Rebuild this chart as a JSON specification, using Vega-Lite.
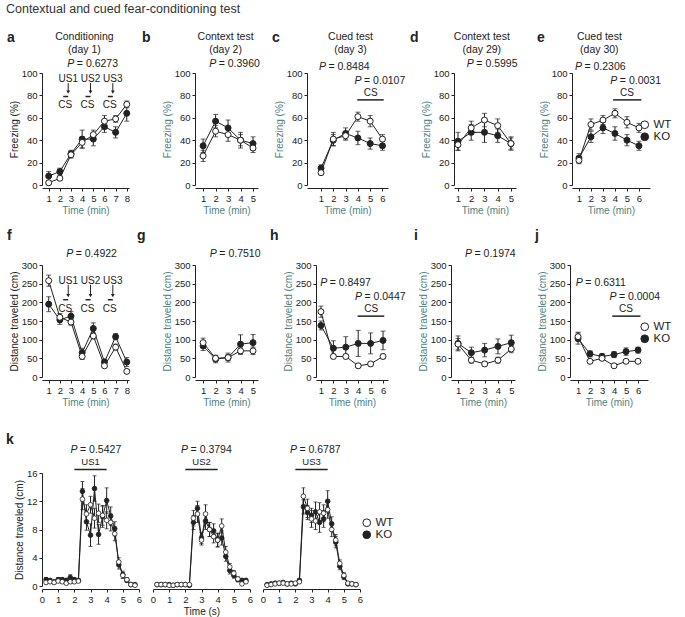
{
"$schema": "https://vega.github.io/schema/vega-lite/v6.json",
"background": "white",
"padding": {"left": 5, "top": 2, "right": 0, "bottom": 0},
"title": {"text": "Contextual and cued fear-conditioning test", "anchor": "start", "frame": "bounds", "fontSize": 12.5, "fontWeight": "normal", "font": "Liberation Sans", "color": "#333", "offset": 16},
"config": {
  "view": {"stroke": null},
  "font": "Liberation Sans",
  "axis": {"grid": false, "domainColor": "#222", "tickColor": "#222", "labelColor": "#222", "titleColor": "#222", "labelFontSize": 9.5, "titleFontSize": 10, "titleFontWeight": "normal", "tickSize": 3, "labelPadding": 2, "titlePadding": 2, "domainWidth": 1, "tickWidth": 1, "labelFont": "Liberation Sans", "titleFont": "Liberation Sans", "labelFlush": false, "labelOverlap": false},
  "axisX": {"titlePadding": 3},
  "text": {"fontSize": 10.5, "color": "#222", "font": "Liberation Sans"}
},
"datasets": {
  "a": [
    {"t":1,"g":"KO","v":8,"e":4},{"t":2,"g":"KO","v":12,"e":3},{"t":3,"g":"KO","v":28,"e":3},{"t":4,"g":"KO","v":41,"e":8},{"t":5,"g":"KO","v":41,"e":6},{"t":6,"g":"KO","v":52,"e":5},{"t":7,"g":"KO","v":47,"e":5},{"t":8,"g":"KO","v":64,"e":7},
    {"t":1,"g":"WT","v":2,"e":2},{"t":2,"g":"WT","v":6,"e":2},{"t":3,"g":"WT","v":27,"e":3},{"t":4,"g":"WT","v":38,"e":5},{"t":5,"g":"WT","v":45,"e":4},{"t":6,"g":"WT","v":57,"e":5},{"t":7,"g":"WT","v":59,"e":3},{"t":8,"g":"WT","v":72,"e":3}
  ],
  "b": [
    {"t":1,"g":"KO","v":35,"e":6},{"t":2,"g":"KO","v":57,"e":6},{"t":3,"g":"KO","v":51,"e":7},{"t":4,"g":"KO","v":40,"e":7},{"t":5,"g":"KO","v":37,"e":6},
    {"t":1,"g":"WT","v":26,"e":5},{"t":2,"g":"WT","v":48,"e":5},{"t":3,"g":"WT","v":45,"e":6},{"t":4,"g":"WT","v":40,"e":5},{"t":5,"g":"WT","v":33,"e":4}
  ],
  "c": [
    {"t":1,"g":"KO","v":15,"e":3},{"t":2,"g":"KO","v":40,"e":5},{"t":3,"g":"KO","v":46,"e":5},{"t":4,"g":"KO","v":42,"e":6},{"t":5,"g":"KO","v":37,"e":5},{"t":6,"g":"KO","v":35,"e":4},
    {"t":1,"g":"WT","v":11,"e":2},{"t":2,"g":"WT","v":41,"e":6},{"t":3,"g":"WT","v":44,"e":4},{"t":4,"g":"WT","v":61,"e":4},{"t":5,"g":"WT","v":57,"e":5},{"t":6,"g":"WT","v":41,"e":4}
  ],
  "d": [
    {"t":1,"g":"KO","v":39,"e":8},{"t":2,"g":"KO","v":47,"e":7},{"t":3,"g":"KO","v":47,"e":9},{"t":4,"g":"KO","v":44,"e":6},{"t":5,"g":"KO","v":37,"e":6},
    {"t":1,"g":"WT","v":36,"e":5},{"t":2,"g":"WT","v":51,"e":6},{"t":3,"g":"WT","v":58,"e":6},{"t":4,"g":"WT","v":53,"e":6},{"t":5,"g":"WT","v":37,"e":5}
  ],
  "e": [
    {"t":1,"g":"KO","v":24,"e":4},{"t":2,"g":"KO","v":43,"e":5},{"t":3,"g":"KO","v":51,"e":5},{"t":4,"g":"KO","v":46,"e":6},{"t":5,"g":"KO","v":40,"e":5},{"t":6,"g":"KO","v":35,"e":4},
    {"t":1,"g":"WT","v":22,"e":3},{"t":2,"g":"WT","v":54,"e":5},{"t":3,"g":"WT","v":58,"e":4},{"t":4,"g":"WT","v":64,"e":4},{"t":5,"g":"WT","v":56,"e":5},{"t":6,"g":"WT","v":51,"e":4}
  ],
  "f": [
    {"t":1,"g":"KO","v":195,"e":20},{"t":2,"g":"KO","v":153,"e":12},{"t":3,"g":"KO","v":163,"e":12},{"t":4,"g":"KO","v":65,"e":12},{"t":5,"g":"KO","v":130,"e":15},{"t":6,"g":"KO","v":40,"e":8},{"t":7,"g":"KO","v":108,"e":8},{"t":8,"g":"KO","v":40,"e":12},
    {"t":1,"g":"WT","v":258,"e":15},{"t":2,"g":"WT","v":160,"e":10},{"t":3,"g":"WT","v":147,"e":8},{"t":4,"g":"WT","v":55,"e":8},{"t":5,"g":"WT","v":110,"e":8},{"t":6,"g":"WT","v":30,"e":5},{"t":7,"g":"WT","v":80,"e":8},{"t":8,"g":"WT","v":15,"e":5}
  ],
  "g": [
    {"t":1,"g":"KO","v":83,"e":12},{"t":2,"g":"KO","v":48,"e":10},{"t":3,"g":"KO","v":52,"e":12},{"t":4,"g":"KO","v":88,"e":25},{"t":5,"g":"KO","v":92,"e":22},
    {"t":1,"g":"WT","v":92,"e":12},{"t":2,"g":"WT","v":50,"e":8},{"t":3,"g":"WT","v":52,"e":8},{"t":4,"g":"WT","v":70,"e":10},{"t":5,"g":"WT","v":70,"e":10}
  ],
  "h": [
    {"t":1,"g":"KO","v":138,"e":12},{"t":2,"g":"KO","v":77,"e":20},{"t":3,"g":"KO","v":80,"e":28},{"t":4,"g":"KO","v":90,"e":35},{"t":5,"g":"KO","v":90,"e":28},{"t":6,"g":"KO","v":98,"e":25},
    {"t":1,"g":"WT","v":175,"e":15},{"t":2,"g":"WT","v":55,"e":6},{"t":3,"g":"WT","v":55,"e":6},{"t":4,"g":"WT","v":30,"e":5},{"t":5,"g":"WT","v":35,"e":5},{"t":6,"g":"WT","v":55,"e":6}
  ],
  "i": [
    {"t":1,"g":"KO","v":90,"e":20},{"t":2,"g":"KO","v":65,"e":15},{"t":3,"g":"KO","v":72,"e":18},{"t":4,"g":"KO","v":82,"e":20},{"t":5,"g":"KO","v":92,"e":20},
    {"t":1,"g":"WT","v":88,"e":15},{"t":2,"g":"WT","v":45,"e":8},{"t":3,"g":"WT","v":35,"e":6},{"t":4,"g":"WT","v":45,"e":8},{"t":5,"g":"WT","v":75,"e":10}
  ],
  "j": [
    {"t":1,"g":"KO","v":103,"e":15},{"t":2,"g":"KO","v":62,"e":8},{"t":3,"g":"KO","v":55,"e":8},{"t":4,"g":"KO","v":60,"e":8},{"t":5,"g":"KO","v":68,"e":10},{"t":6,"g":"KO","v":72,"e":8},
    {"t":1,"g":"WT","v":108,"e":12},{"t":2,"g":"WT","v":42,"e":5},{"t":3,"g":"WT","v":50,"e":5},{"t":4,"g":"WT","v":30,"e":4},{"t":5,"g":"WT","v":42,"e":5},{"t":6,"g":"WT","v":42,"e":5}
  ],
  "k1": [
    {"t":0.25,"g":"KO","v":0.9,"e":0.3},{"t":0.5,"g":"KO","v":0.8,"e":0.2},{"t":0.75,"g":"KO","v":0.6,"e":0.2},{"t":1,"g":"KO","v":0.9,"e":0.3},{"t":1.25,"g":"KO","v":0.9,"e":0.3},{"t":1.5,"g":"KO","v":0.8,"e":0.2},{"t":1.75,"g":"KO","v":1.2,"e":0.4},{"t":2,"g":"KO","v":0.9,"e":0.3},{"t":2.25,"g":"KO","v":0.8,"e":0.2},{"t":2.5,"g":"KO","v":13.4,"e":1.4},{"t":2.75,"g":"KO","v":9.1,"e":1.2},{"t":3,"g":"KO","v":7.2,"e":1.6},{"t":3.25,"g":"KO","v":13.8,"e":1.8},{"t":3.5,"g":"KO","v":7.3,"e":1.4},{"t":3.75,"g":"KO","v":9.8,"e":1.5},{"t":4,"g":"KO","v":12.1,"e":1.8},{"t":4.25,"g":"KO","v":9.9,"e":1.3},{"t":4.5,"g":"KO","v":8.1,"e":1.0},{"t":4.75,"g":"KO","v":3.0,"e":0.6},{"t":5,"g":"KO","v":1.6,"e":0.5},{"t":5.25,"g":"KO","v":0.8,"e":0.3},{"t":5.5,"g":"KO","v":0.2,"e":0.1},{"t":5.75,"g":"KO","v":0.2,"e":0.1},
    {"t":0.25,"g":"WT","v":0.5,"e":0.2},{"t":0.5,"g":"WT","v":0.6,"e":0.2},{"t":0.75,"g":"WT","v":0.5,"e":0.2},{"t":1,"g":"WT","v":0.7,"e":0.2},{"t":1.25,"g":"WT","v":0.6,"e":0.2},{"t":1.5,"g":"WT","v":0.4,"e":0.2},{"t":1.75,"g":"WT","v":0.6,"e":0.2},{"t":2,"g":"WT","v":0.6,"e":0.2},{"t":2.25,"g":"WT","v":0.7,"e":0.2},{"t":2.5,"g":"WT","v":12.3,"e":1.5},{"t":2.75,"g":"WT","v":10.2,"e":1.3},{"t":3,"g":"WT","v":11.5,"e":1.2},{"t":3.25,"g":"WT","v":9.6,"e":1.4},{"t":3.5,"g":"WT","v":10.3,"e":1.3},{"t":3.75,"g":"WT","v":10.0,"e":1.4},{"t":4,"g":"WT","v":9.3,"e":1.2},{"t":4.25,"g":"WT","v":9.0,"e":1.2},{"t":4.5,"g":"WT","v":7.4,"e":1.0},{"t":4.75,"g":"WT","v":3.4,"e":0.6},{"t":5,"g":"WT","v":1.5,"e":0.4},{"t":5.25,"g":"WT","v":0.9,"e":0.3},{"t":5.5,"g":"WT","v":0.2,"e":0.1},{"t":5.75,"g":"WT","v":0.1,"e":0.1}
  ],
  "k2": [
    {"t":0.25,"g":"KO","v":0.2,"e":0.1},{"t":0.5,"g":"KO","v":0.2,"e":0.1},{"t":0.75,"g":"KO","v":0.2,"e":0.1},{"t":1,"g":"KO","v":0.2,"e":0.1},{"t":1.25,"g":"KO","v":0.1,"e":0.1},{"t":1.5,"g":"KO","v":0.2,"e":0.1},{"t":1.75,"g":"KO","v":0.2,"e":0.1},{"t":2,"g":"KO","v":0.2,"e":0.1},{"t":2.25,"g":"KO","v":0.1,"e":0.1},{"t":2.5,"g":"KO","v":9.0,"e":1.0},{"t":2.75,"g":"KO","v":11.0,"e":1.0},{"t":3,"g":"KO","v":6.8,"e":0.8},{"t":3.25,"g":"KO","v":9.2,"e":1.2},{"t":3.5,"g":"KO","v":8.0,"e":1.0},{"t":3.75,"g":"KO","v":7.8,"e":1.0},{"t":4,"g":"KO","v":6.5,"e":0.9},{"t":4.25,"g":"KO","v":6.8,"e":1.0},{"t":4.5,"g":"KO","v":4.2,"e":0.7},{"t":4.75,"g":"KO","v":2.2,"e":0.5},{"t":5,"g":"KO","v":1.5,"e":0.4},{"t":5.25,"g":"KO","v":0.9,"e":0.3},{"t":5.5,"g":"KO","v":0.8,"e":0.2},{"t":5.75,"g":"KO","v":0.8,"e":0.2},
    {"t":0.25,"g":"WT","v":0.2,"e":0.1},{"t":0.5,"g":"WT","v":0.2,"e":0.1},{"t":0.75,"g":"WT","v":0.2,"e":0.1},{"t":1,"g":"WT","v":0.1,"e":0.1},{"t":1.25,"g":"WT","v":0.1,"e":0.1},{"t":1.5,"g":"WT","v":0.2,"e":0.1},{"t":1.75,"g":"WT","v":0.2,"e":0.1},{"t":2,"g":"WT","v":0.2,"e":0.1},{"t":2.25,"g":"WT","v":0.2,"e":0.1},{"t":2.5,"g":"WT","v":9.6,"e":1.1},{"t":2.75,"g":"WT","v":10.2,"e":1.2},{"t":3,"g":"WT","v":6.5,"e":0.7},{"t":3.25,"g":"WT","v":10.2,"e":1.3},{"t":3.5,"g":"WT","v":8.0,"e":1.0},{"t":3.75,"g":"WT","v":7.0,"e":0.9},{"t":4,"g":"WT","v":6.5,"e":1.0},{"t":4.25,"g":"WT","v":8.5,"e":1.0},{"t":4.5,"g":"WT","v":4.8,"e":0.8},{"t":4.75,"g":"WT","v":2.7,"e":0.5},{"t":5,"g":"WT","v":1.8,"e":0.4},{"t":5.25,"g":"WT","v":1.0,"e":0.3},{"t":5.5,"g":"WT","v":0.3,"e":0.2},{"t":5.75,"g":"WT","v":0.6,"e":0.2}
  ],
  "k3": [
    {"t":0.25,"g":"KO","v":0.2,"e":0.1},{"t":0.5,"g":"KO","v":0.3,"e":0.1},{"t":0.75,"g":"KO","v":0.4,"e":0.1},{"t":1,"g":"KO","v":0.4,"e":0.1},{"t":1.25,"g":"KO","v":0.5,"e":0.1},{"t":1.5,"g":"KO","v":0.3,"e":0.1},{"t":1.75,"g":"KO","v":0.4,"e":0.1},{"t":2,"g":"KO","v":0.3,"e":0.1},{"t":2.25,"g":"KO","v":0.8,"e":0.2},{"t":2.5,"g":"KO","v":11.2,"e":1.0},{"t":2.75,"g":"KO","v":10.4,"e":1.0},{"t":3,"g":"KO","v":10.0,"e":1.0},{"t":3.25,"g":"KO","v":10.5,"e":1.4},{"t":3.5,"g":"KO","v":9.0,"e":1.4},{"t":3.75,"g":"KO","v":9.5,"e":1.2},{"t":4,"g":"KO","v":12.0,"e":1.5},{"t":4.25,"g":"KO","v":8.8,"e":1.0},{"t":4.5,"g":"KO","v":6.2,"e":0.8},{"t":4.75,"g":"KO","v":2.8,"e":0.5},{"t":5,"g":"KO","v":1.3,"e":0.4},{"t":5.25,"g":"KO","v":0.3,"e":0.2},{"t":5.5,"g":"KO","v":0.3,"e":0.1},{"t":5.75,"g":"KO","v":0.2,"e":0.1},
    {"t":0.25,"g":"WT","v":0.1,"e":0.1},{"t":0.5,"g":"WT","v":0.2,"e":0.1},{"t":0.75,"g":"WT","v":0.3,"e":0.1},{"t":1,"g":"WT","v":0.4,"e":0.1},{"t":1.25,"g":"WT","v":0.4,"e":0.1},{"t":1.5,"g":"WT","v":0.3,"e":0.1},{"t":1.75,"g":"WT","v":0.3,"e":0.1},{"t":2,"g":"WT","v":0.4,"e":0.1},{"t":2.25,"g":"WT","v":0.6,"e":0.2},{"t":2.5,"g":"WT","v":12.7,"e":1.2},{"t":2.75,"g":"WT","v":11.0,"e":1.3},{"t":3,"g":"WT","v":9.5,"e":1.2},{"t":3.25,"g":"WT","v":9.2,"e":1.2},{"t":3.5,"g":"WT","v":10.5,"e":1.3},{"t":3.75,"g":"WT","v":10.3,"e":1.2},{"t":4,"g":"WT","v":10.8,"e":1.2},{"t":4.25,"g":"WT","v":8.0,"e":1.0},{"t":4.5,"g":"WT","v":6.5,"e":0.8},{"t":4.75,"g":"WT","v":3.2,"e":0.5},{"t":5,"g":"WT","v":1.5,"e":0.4},{"t":5.25,"g":"WT","v":0.4,"e":0.2},{"t":5.5,"g":"WT","v":0.3,"e":0.1},{"t":5.75,"g":"WT","v":0.2,"e":0.1}
  ],
  "us": [
    {"us":2.75,"cs0":2.3,"label":"US1"},{"us":4.75,"cs0":4.3,"label":"US2"},{"us":6.75,"cs0":6.3,"label":"US3"}
  ]
},
"columns": 5,
"bounds": "flush",
"spacing": {"row": 80, "column": 0},
"resolve": {"scale": {"fill": "independent"}},
"concat": [
 {"width": 153, "height": 112,
  "layer": [
   {"data": {"name": "a"}, "mark": {"type": "line", "color": "#222", "strokeWidth": 1}, "encoding": {"x": {"field": "t", "type": "quantitative", "title": "Time (min)", "scale": {"domain": [0.4, 8.2], "range": [0, 87], "nice": false, "zero": false}, "axis": {"values": [1,2,3,4,5,6,7,8], "tickCount": 50, "format": "d", "labelOverlap": false, "titleColor": "#4f8283", "offset": 3}}, "y": {"field": "v", "type": "quantitative", "title": "Freezing (%)", "scale": {"domain": [0, 100], "nice": false}, "axis": {"values": [0,20,40,60,80,100], "tickCount": 50, "format": "d", "labelOverlap": false}}, "detail": {"field": "g"}}},
   {"data": {"name": "a"}, "mark": {"type": "errorbar", "ticks": true, "size": 5, "thickness": 1, "color": "#222"}, "encoding": {"x": {"field": "t", "type": "quantitative", "title": "Time (min)"}, "y": {"field": "v", "type": "quantitative", "title": "Freezing (%)"}, "yError": {"field": "e"}}},
   {"data": {"name": "a"}, "mark": {"type": "point", "shape": "circle", "filled": true, "stroke": "#222", "strokeWidth": 1, "size": 36, "opacity": 1}, "encoding": {"x": {"field": "t", "type": "quantitative", "title": "Time (min)"}, "y": {"field": "v", "type": "quantitative", "title": "Freezing (%)"}, "fill": {"field": "g", "type": "nominal", "scale": {"domain": ["WT", "KO"], "range": ["white", "#222"]}, "legend": null}}},
   {"data": {"values": [{}]}, "mark": {"type": "text", "text": "a", "fontSize": 14, "fontWeight": "bold", "align": "left", "baseline": "middle"}, "encoding": {"x": {"datum": -2.74}, "y": {"datum": 131}}},
   {"data": {"values": [{}]}, "mark": {"type": "text", "text": ["Conditioning", "(day 1)"], "lineHeight": 13, "baseline": "middle"}, "encoding": {"x": {"datum": 4.2}, "y": {"datum": 132}}},
   {"data": {"values": [{}]}, "mark": {"type": "text", "text": "P", "fontStyle": "italic", "align": "right", "baseline": "middle"}, "encoding": {"x": {"datum": 3.3}, "y": {"datum": 108}}},
   {"data": {"values": [{}]}, "mark": {"type": "text", "text": "= 0.6273", "align": "left", "dx": 2.5, "baseline": "middle"}, "encoding": {"x": {"datum": 3.3}, "y": {"datum": 108}}},
   {"data": {"name": "us"}, "mark": {"type": "text", "fontSize": 10, "baseline": "middle"}, "encoding": {"x": {"field": "us", "type": "quantitative", "title": "Time (min)"}, "y": {"datum": 95}, "text": {"field": "label"}}},
   {"data": {"name": "us"}, "mark": {"type": "rule", "color": "#222", "strokeWidth": 1}, "encoding": {"x": {"field": "us", "type": "quantitative", "title": "Time (min)"}, "y": {"datum": 91}, "y2": {"datum": 83}}},
   {"data": {"name": "us"}, "mark": {"type": "point", "shape": "triangle-down", "filled": true, "color": "#222", "size": 14, "opacity": 1}, "encoding": {"x": {"field": "us", "type": "quantitative", "title": "Time (min)"}, "y": {"datum": 83}}},
   {"data": {"name": "us"}, "mark": {"type": "rule", "color": "#222", "strokeWidth": 1.5}, "encoding": {"x": {"field": "cs0", "type": "quantitative", "title": "Time (min)"}, "x2": {"field": "us"}, "y": {"datum": 79}}},
   {"data": {"name": "us"}, "mark": {"type": "text", "text": "CS", "fontSize": 10, "baseline": "middle", "dx": -3}, "encoding": {"x": {"field": "us", "type": "quantitative", "title": "Time (min)"}, "y": {"datum": 71}}}
  ]},
 {"width": 112, "height": 112,
  "layer": [
   {"data": {"name": "b"}, "mark": {"type": "line", "color": "#222", "strokeWidth": 1}, "encoding": {"x": {"field": "t", "type": "quantitative", "title": "Time (min)", "scale": {"domain": [0.35, 5.4], "range": [0, 63], "nice": false, "zero": false}, "axis": {"values": [1,2,3,4,5], "tickCount": 50, "format": "d", "labelOverlap": false, "titleColor": "#4f8283", "offset": 3}}, "y": {"field": "v", "type": "quantitative", "title": "Freezing (%)", "scale": {"domain": [0, 100], "nice": false}, "axis": {"values": [0,20,40,60,80,100], "tickCount": 50, "format": "d", "labelOverlap": false, "titleColor": "#4f8283"}}, "detail": {"field": "g"}}},
   {"data": {"name": "b"}, "mark": {"type": "errorbar", "ticks": true, "size": 5, "thickness": 1, "color": "#222"}, "encoding": {"x": {"field": "t", "type": "quantitative", "title": "Time (min)"}, "y": {"field": "v", "type": "quantitative", "title": "Freezing (%)"}, "yError": {"field": "e"}}},
   {"data": {"name": "b"}, "mark": {"type": "point", "shape": "circle", "filled": true, "stroke": "#222", "strokeWidth": 1, "size": 36, "opacity": 1}, "encoding": {"x": {"field": "t", "type": "quantitative", "title": "Time (min)"}, "y": {"field": "v", "type": "quantitative", "title": "Freezing (%)"}, "fill": {"field": "g", "type": "nominal", "scale": {"domain": ["WT", "KO"], "range": ["white", "#222"]}, "legend": null}}},
   {"data": {"values": [{}]}, "mark": {"type": "text", "text": "b", "fontSize": 14, "fontWeight": "bold", "align": "left", "baseline": "middle"}, "encoding": {"x": {"datum": -3.9}, "y": {"datum": 131}}},
   {"data": {"values": [{}]}, "mark": {"type": "text", "text": ["Context test", "(day 2)"], "lineHeight": 13, "baseline": "middle"}, "encoding": {"x": {"datum": 2.8}, "y": {"datum": 132}}},
   {"data": {"values": [{}]}, "mark": {"type": "text", "text": "P", "fontStyle": "italic", "align": "right", "baseline": "middle"}, "encoding": {"x": {"datum": 2.05}, "y": {"datum": 108}}},
   {"data": {"values": [{}]}, "mark": {"type": "text", "text": "= 0.3960", "align": "left", "dx": 2.5, "baseline": "middle"}, "encoding": {"x": {"datum": 2.05}, "y": {"datum": 108}}}
  ]},
 {"width": 144, "height": 112,
  "layer": [
   {"data": {"name": "c"}, "mark": {"type": "line", "color": "#222", "strokeWidth": 1}, "encoding": {"x": {"field": "t", "type": "quantitative", "title": "Time (min)", "scale": {"domain": [-0.14, 6.45], "range": [0, 81], "nice": false, "zero": false}, "axis": {"values": [1,2,3,4,5,6], "tickCount": 50, "format": "d", "labelOverlap": false, "titleColor": "#4f8283", "offset": 3}}, "y": {"field": "v", "type": "quantitative", "title": "Freezing (%)", "scale": {"domain": [0, 100], "nice": false}, "axis": {"values": [0,20,40,60,80,100], "tickCount": 50, "format": "d", "labelOverlap": false, "titleColor": "#4f8283"}}, "detail": {"field": "g"}}},
   {"data": {"name": "c"}, "mark": {"type": "errorbar", "ticks": true, "size": 5, "thickness": 1, "color": "#222"}, "encoding": {"x": {"field": "t", "type": "quantitative", "title": "Time (min)"}, "y": {"field": "v", "type": "quantitative", "title": "Freezing (%)"}, "yError": {"field": "e"}}},
   {"data": {"name": "c"}, "mark": {"type": "point", "shape": "circle", "filled": true, "stroke": "#222", "strokeWidth": 1, "size": 36, "opacity": 1}, "encoding": {"x": {"field": "t", "type": "quantitative", "title": "Time (min)"}, "y": {"field": "v", "type": "quantitative", "title": "Freezing (%)"}, "fill": {"field": "g", "type": "nominal", "scale": {"domain": ["WT", "KO"], "range": ["white", "#222"]}, "legend": null}}},
   {"data": {"values": [{}]}, "mark": {"type": "text", "text": "c", "fontSize": 14, "fontWeight": "bold", "align": "left", "baseline": "middle"}, "encoding": {"x": {"datum": -2.99}, "y": {"datum": 131}}},
   {"data": {"values": [{}]}, "mark": {"type": "text", "text": ["Cued test", "(day 3)"], "lineHeight": 13, "baseline": "middle"}, "encoding": {"x": {"datum": 3.4}, "y": {"datum": 132}}},
   {"data": {"values": [{}]}, "mark": {"type": "text", "text": "P", "fontStyle": "italic", "align": "right", "baseline": "middle"}, "encoding": {"x": {"datum": 1.4}, "y": {"datum": 105}}},
   {"data": {"values": [{}]}, "mark": {"type": "text", "text": "= 0.8484", "align": "left", "dx": 2.5, "baseline": "middle"}, "encoding": {"x": {"datum": 1.4}, "y": {"datum": 105}}},
   {"data": {"values": [{}]}, "mark": {"type": "text", "text": "P", "fontStyle": "italic", "align": "right", "baseline": "middle"}, "encoding": {"x": {"datum": 4.3}, "y": {"datum": 93}}},
   {"data": {"values": [{}]}, "mark": {"type": "text", "text": "= 0.0107", "align": "left", "dx": 2.5, "baseline": "middle"}, "encoding": {"x": {"datum": 4.3}, "y": {"datum": 93}}},
   {"data": {"values": [{}]}, "mark": {"type": "text", "text": "CS", "fontSize": 10, "baseline": "middle"}, "encoding": {"x": {"datum": 5.05}, "y": {"datum": 82}}},
   {"data": {"values": [{}]}, "mark": {"type": "rule", "color": "#222", "strokeWidth": 1.5}, "encoding": {"x": {"datum": 3.95}, "x2": {"datum": 6.1}, "y": {"datum": 76}}}
  ]},
 {"width": 119, "height": 112,
  "layer": [
   {"data": {"name": "d"}, "mark": {"type": "line", "color": "#222", "strokeWidth": 1}, "encoding": {"x": {"field": "t", "type": "quantitative", "title": "Time (min)", "scale": {"domain": [0.7, 5.38], "range": [3, 65], "nice": false, "zero": false}, "axis": {"values": [1,2,3,4,5], "tickCount": 50, "format": "d", "labelOverlap": false, "titleColor": "#4f8283", "offset": 3}}, "y": {"field": "v", "type": "quantitative", "title": "Freezing (%)", "scale": {"domain": [0, 100], "nice": false}, "axis": {"values": [0,20,40,60,80,100], "tickCount": 50, "format": "d", "labelOverlap": false, "titleColor": "#4f8283", "offset": -3}}, "detail": {"field": "g"}}},
   {"data": {"name": "d"}, "mark": {"type": "errorbar", "ticks": true, "size": 5, "thickness": 1, "color": "#222"}, "encoding": {"x": {"field": "t", "type": "quantitative", "title": "Time (min)"}, "y": {"field": "v", "type": "quantitative", "title": "Freezing (%)"}, "yError": {"field": "e"}}},
   {"data": {"name": "d"}, "mark": {"type": "point", "shape": "circle", "filled": true, "stroke": "#222", "strokeWidth": 1, "size": 36, "opacity": 1}, "encoding": {"x": {"field": "t", "type": "quantitative", "title": "Time (min)"}, "y": {"field": "v", "type": "quantitative", "title": "Freezing (%)"}, "fill": {"field": "g", "type": "nominal", "scale": {"domain": ["WT", "KO"], "range": ["white", "#222"]}, "legend": null}}},
   {"data": {"values": [{}]}, "mark": {"type": "text", "text": "d", "fontSize": 14, "fontWeight": "bold", "align": "left", "baseline": "middle"}, "encoding": {"x": {"datum": -2.62}, "y": {"datum": 131}}},
   {"data": {"values": [{}]}, "mark": {"type": "text", "text": ["Context test", "(day 29)"], "lineHeight": 13, "baseline": "middle"}, "encoding": {"x": {"datum": 2.8}, "y": {"datum": 132}}},
   {"data": {"values": [{}]}, "mark": {"type": "text", "text": "P", "fontStyle": "italic", "align": "right", "baseline": "middle"}, "encoding": {"x": {"datum": 2.2}, "y": {"datum": 108}}},
   {"data": {"values": [{}]}, "mark": {"type": "text", "text": "= 0.5995", "align": "left", "dx": 2.5, "baseline": "middle"}, "encoding": {"x": {"datum": 2.2}, "y": {"datum": 108}}}
  ]},
 {"width": 100, "height": 112,
  "layer": [
   {"data": {"name": "e"}, "mark": {"type": "line", "color": "#222", "strokeWidth": 1}, "encoding": {"x": {"field": "t", "type": "quantitative", "title": "Time (min)", "scale": {"domain": [0.42, 6.92], "range": [2, 80], "nice": false, "zero": false}, "axis": {"values": [1,2,3,4,5,6], "tickCount": 50, "format": "d", "labelOverlap": false, "titleColor": "#4f8283", "offset": 3}}, "y": {"field": "v", "type": "quantitative", "title": "Freezing (%)", "scale": {"domain": [0, 100], "nice": false}, "axis": {"values": [0,20,40,60,80,100], "tickCount": 50, "format": "d", "labelOverlap": false, "titleColor": "#4f8283", "offset": -2}}, "detail": {"field": "g"}}},
   {"data": {"name": "e"}, "mark": {"type": "errorbar", "ticks": true, "size": 5, "thickness": 1, "color": "#222"}, "encoding": {"x": {"field": "t", "type": "quantitative", "title": "Time (min)"}, "y": {"field": "v", "type": "quantitative", "title": "Freezing (%)"}, "yError": {"field": "e"}}},
   {"data": {"name": "e"}, "mark": {"type": "point", "shape": "circle", "filled": true, "stroke": "#222", "strokeWidth": 1, "size": 36, "opacity": 1}, "encoding": {"x": {"field": "t", "type": "quantitative", "title": "Time (min)"}, "y": {"field": "v", "type": "quantitative", "title": "Freezing (%)"}, "fill": {"field": "g", "type": "nominal", "scale": {"domain": ["WT", "KO"], "range": ["white", "#222"]}, "legend": {"title": null, "orient": "none", "legendX": 69, "legendY": 46, "symbolType": "circle", "symbolSize": 60, "symbolStrokeColor": "#222", "symbolStrokeWidth": 1, "labelFontSize": 11.5, "labelColor": "#222", "labelFont": "Liberation Sans", "rowPadding": -3, "labelOffset": 3}}}},
   {"data": {"values": [{}]}, "mark": {"type": "text", "text": "e", "fontSize": 14, "fontWeight": "bold", "align": "left", "baseline": "middle"}, "encoding": {"x": {"datum": -2.5}, "y": {"datum": 131}}},
   {"data": {"values": [{}]}, "mark": {"type": "text", "text": ["Cued test", "(day 30)"], "lineHeight": 13, "baseline": "middle"}, "encoding": {"x": {"datum": 2.7}, "y": {"datum": 132}}},
   {"data": {"values": [{}]}, "mark": {"type": "text", "text": "P", "fontStyle": "italic", "align": "right", "baseline": "middle"}, "encoding": {"x": {"datum": 1.25}, "y": {"datum": 105}}},
   {"data": {"values": [{}]}, "mark": {"type": "text", "text": "= 0.2306", "align": "left", "dx": 2.5, "baseline": "middle"}, "encoding": {"x": {"datum": 1.25}, "y": {"datum": 105}}},
   {"data": {"values": [{}]}, "mark": {"type": "text", "text": "P", "fontStyle": "italic", "align": "right", "baseline": "middle"}, "encoding": {"x": {"datum": 4.2}, "y": {"datum": 93}}},
   {"data": {"values": [{}]}, "mark": {"type": "text", "text": "= 0.0031", "align": "left", "dx": 2.5, "baseline": "middle"}, "encoding": {"x": {"datum": 4.2}, "y": {"datum": 93}}},
   {"data": {"values": [{}]}, "mark": {"type": "text", "text": "CS", "fontSize": 10, "baseline": "middle"}, "encoding": {"x": {"datum": 5.0}, "y": {"datum": 82}}},
   {"data": {"values": [{}]}, "mark": {"type": "rule", "color": "#222", "strokeWidth": 1.5}, "encoding": {"x": {"datum": 3.85}, "x2": {"datum": 6.2}, "y": {"datum": 76}}}
  ]},
 {"width": 153, "height": 112,
  "layer": [
   {"data": {"name": "f"}, "mark": {"type": "line", "color": "#222", "strokeWidth": 1}, "encoding": {"x": {"field": "t", "type": "quantitative", "title": "Time (min)", "scale": {"domain": [0.4, 8.2], "range": [0, 87], "nice": false, "zero": false}, "axis": {"values": [1,2,3,4,5,6,7,8], "tickCount": 50, "format": "d", "labelOverlap": false, "titleColor": "#4f8283", "offset": 3}}, "y": {"field": "v", "type": "quantitative", "title": "Distance traveled (cm)", "scale": {"domain": [0, 300], "nice": false}, "axis": {"values": [0,50,100,150,200,250,300], "tickCount": 50, "format": "d", "labelOverlap": false}}, "detail": {"field": "g"}}},
   {"data": {"name": "f"}, "mark": {"type": "errorbar", "ticks": true, "size": 5, "thickness": 1, "color": "#222"}, "encoding": {"x": {"field": "t", "type": "quantitative", "title": "Time (min)"}, "y": {"field": "v", "type": "quantitative", "title": "Distance traveled (cm)"}, "yError": {"field": "e"}}},
   {"data": {"name": "f"}, "mark": {"type": "point", "shape": "circle", "filled": true, "stroke": "#222", "strokeWidth": 1, "size": 36, "opacity": 1}, "encoding": {"x": {"field": "t", "type": "quantitative", "title": "Time (min)"}, "y": {"field": "v", "type": "quantitative", "title": "Distance traveled (cm)"}, "fill": {"field": "g", "type": "nominal", "scale": {"domain": ["WT", "KO"], "range": ["white", "#222"]}, "legend": null}}},
   {"data": {"values": [{}]}, "mark": {"type": "text", "text": "f", "fontSize": 14, "fontWeight": "bold", "align": "left", "baseline": "middle"}, "encoding": {"x": {"datum": -2.74}, "y": {"datum": 378}}},
   {"data": {"values": [{}]}, "mark": {"type": "text", "text": "P", "fontStyle": "italic", "align": "right", "baseline": "middle"}, "encoding": {"x": {"datum": 3.2}, "y": {"datum": 329}}},
   {"data": {"values": [{}]}, "mark": {"type": "text", "text": "= 0.4922", "align": "left", "dx": 2.5, "baseline": "middle"}, "encoding": {"x": {"datum": 3.2}, "y": {"datum": 329}}},
   {"data": {"name": "us"}, "mark": {"type": "text", "fontSize": 10, "baseline": "middle"}, "encoding": {"x": {"field": "us", "type": "quantitative", "title": "Time (min)"}, "y": {"datum": 258}, "text": {"field": "label"}}},
   {"data": {"name": "us"}, "mark": {"type": "rule", "color": "#222", "strokeWidth": 1}, "encoding": {"x": {"field": "us", "type": "quantitative", "title": "Time (min)"}, "y": {"datum": 247}, "y2": {"datum": 218}}},
   {"data": {"name": "us"}, "mark": {"type": "point", "shape": "triangle-down", "filled": true, "color": "#222", "size": 14, "opacity": 1}, "encoding": {"x": {"field": "us", "type": "quantitative", "title": "Time (min)"}, "y": {"datum": 218}}},
   {"data": {"name": "us"}, "mark": {"type": "rule", "color": "#222", "strokeWidth": 1.5}, "encoding": {"x": {"field": "cs0", "type": "quantitative", "title": "Time (min)"}, "x2": {"field": "us"}, "y": {"datum": 207}}},
   {"data": {"name": "us"}, "mark": {"type": "text", "text": "CS", "fontSize": 10, "baseline": "middle", "dx": -3}, "encoding": {"x": {"field": "us", "type": "quantitative", "title": "Time (min)"}, "y": {"datum": 181}}}
  ]},
 {"width": 112, "height": 112,
  "layer": [
   {"data": {"name": "g"}, "mark": {"type": "line", "color": "#222", "strokeWidth": 1}, "encoding": {"x": {"field": "t", "type": "quantitative", "title": "Time (min)", "scale": {"domain": [0.35, 5.4], "range": [0, 63], "nice": false, "zero": false}, "axis": {"values": [1,2,3,4,5], "tickCount": 50, "format": "d", "labelOverlap": false, "titleColor": "#4f8283", "offset": 3}}, "y": {"field": "v", "type": "quantitative", "title": "Distance traveled (cm)", "scale": {"domain": [0, 300], "nice": false}, "axis": {"values": [0,50,100,150,200,250,300], "tickCount": 50, "format": "d", "labelOverlap": false, "titleColor": "#4f8283"}}, "detail": {"field": "g"}}},
   {"data": {"name": "g"}, "mark": {"type": "errorbar", "ticks": true, "size": 5, "thickness": 1, "color": "#222"}, "encoding": {"x": {"field": "t", "type": "quantitative", "title": "Time (min)"}, "y": {"field": "v", "type": "quantitative", "title": "Distance traveled (cm)"}, "yError": {"field": "e"}}},
   {"data": {"name": "g"}, "mark": {"type": "point", "shape": "circle", "filled": true, "stroke": "#222", "strokeWidth": 1, "size": 36, "opacity": 1}, "encoding": {"x": {"field": "t", "type": "quantitative", "title": "Time (min)"}, "y": {"field": "v", "type": "quantitative", "title": "Distance traveled (cm)"}, "fill": {"field": "g", "type": "nominal", "scale": {"domain": ["WT", "KO"], "range": ["white", "#222"]}, "legend": null}}},
   {"data": {"values": [{}]}, "mark": {"type": "text", "text": "g", "fontSize": 14, "fontWeight": "bold", "align": "left", "baseline": "middle"}, "encoding": {"x": {"datum": -4.3}, "y": {"datum": 378}}},
   {"data": {"values": [{}]}, "mark": {"type": "text", "text": "P", "fontStyle": "italic", "align": "right", "baseline": "middle"}, "encoding": {"x": {"datum": 2.1}, "y": {"datum": 329}}},
   {"data": {"values": [{}]}, "mark": {"type": "text", "text": "= 0.7510", "align": "left", "dx": 2.5, "baseline": "middle"}, "encoding": {"x": {"datum": 2.1}, "y": {"datum": 329}}}
  ]},
 {"width": 144, "height": 112,
  "layer": [
   {"data": {"name": "h"}, "mark": {"type": "line", "color": "#222", "strokeWidth": 1}, "encoding": {"x": {"field": "t", "type": "quantitative", "title": "Time (min)", "scale": {"domain": [0.6, 6.4], "range": [9, 81], "nice": false, "zero": false}, "axis": {"values": [1,2,3,4,5,6], "tickCount": 50, "format": "d", "labelOverlap": false, "titleColor": "#4f8283", "offset": 3}}, "y": {"field": "v", "type": "quantitative", "title": "Distance traveled (cm)", "scale": {"domain": [0, 300], "nice": false}, "axis": {"values": [0,50,100,150,200,250,300], "tickCount": 50, "format": "d", "labelOverlap": false, "titleColor": "#4f8283", "offset": -9}}, "detail": {"field": "g"}}},
   {"data": {"name": "h"}, "mark": {"type": "errorbar", "ticks": true, "size": 5, "thickness": 1, "color": "#222"}, "encoding": {"x": {"field": "t", "type": "quantitative", "title": "Time (min)"}, "y": {"field": "v", "type": "quantitative", "title": "Distance traveled (cm)"}, "yError": {"field": "e"}}},
   {"data": {"name": "h"}, "mark": {"type": "point", "shape": "circle", "filled": true, "stroke": "#222", "strokeWidth": 1, "size": 36, "opacity": 1}, "encoding": {"x": {"field": "t", "type": "quantitative", "title": "Time (min)"}, "y": {"field": "v", "type": "quantitative", "title": "Distance traveled (cm)"}, "fill": {"field": "g", "type": "nominal", "scale": {"domain": ["WT", "KO"], "range": ["white", "#222"]}, "legend": null}}},
   {"data": {"values": [{}]}, "mark": {"type": "text", "text": "h", "fontSize": 14, "fontWeight": "bold", "align": "left", "baseline": "middle"}, "encoding": {"x": {"datum": -3.11}, "y": {"datum": 378}}},
   {"data": {"values": [{}]}, "mark": {"type": "text", "text": "P", "fontStyle": "italic", "align": "right", "baseline": "middle"}, "encoding": {"x": {"datum": 1.5}, "y": {"datum": 252}}},
   {"data": {"values": [{}]}, "mark": {"type": "text", "text": "= 0.8497", "align": "left", "dx": 2.5, "baseline": "middle"}, "encoding": {"x": {"datum": 1.5}, "y": {"datum": 252}}},
   {"data": {"values": [{}]}, "mark": {"type": "text", "text": "P", "fontStyle": "italic", "align": "right", "baseline": "middle"}, "encoding": {"x": {"datum": 4.3}, "y": {"datum": 214}}},
   {"data": {"values": [{}]}, "mark": {"type": "text", "text": "= 0.0447", "align": "left", "dx": 2.5, "baseline": "middle"}, "encoding": {"x": {"datum": 4.3}, "y": {"datum": 214}}},
   {"data": {"values": [{}]}, "mark": {"type": "text", "text": "CS", "fontSize": 10, "baseline": "middle"}, "encoding": {"x": {"datum": 5.05}, "y": {"datum": 182}}},
   {"data": {"values": [{}]}, "mark": {"type": "rule", "color": "#222", "strokeWidth": 1.5}, "encoding": {"x": {"datum": 3.95}, "x2": {"datum": 6.1}, "y": {"datum": 163}}}
  ]},
 {"width": 119, "height": 112,
  "layer": [
   {"data": {"name": "i"}, "mark": {"type": "line", "color": "#222", "strokeWidth": 1}, "encoding": {"x": {"field": "t", "type": "quantitative", "title": "Time (min)", "scale": {"domain": [0.47, 5.28], "range": [0, 64], "nice": false, "zero": false}, "axis": {"values": [1,2,3,4,5], "tickCount": 50, "format": "d", "labelOverlap": false, "titleColor": "#4f8283", "offset": 3}}, "y": {"field": "v", "type": "quantitative", "title": "Distance traveled (cm)", "scale": {"domain": [0, 300], "nice": false}, "axis": {"values": [0,50,100,150,200,250,300], "tickCount": 50, "format": "d", "labelOverlap": false, "titleColor": "#4f8283"}}, "detail": {"field": "g"}}},
   {"data": {"name": "i"}, "mark": {"type": "errorbar", "ticks": true, "size": 5, "thickness": 1, "color": "#222"}, "encoding": {"x": {"field": "t", "type": "quantitative", "title": "Time (min)"}, "y": {"field": "v", "type": "quantitative", "title": "Distance traveled (cm)"}, "yError": {"field": "e"}}},
   {"data": {"name": "i"}, "mark": {"type": "point", "shape": "circle", "filled": true, "stroke": "#222", "strokeWidth": 1, "size": 36, "opacity": 1}, "encoding": {"x": {"field": "t", "type": "quantitative", "title": "Time (min)"}, "y": {"field": "v", "type": "quantitative", "title": "Distance traveled (cm)"}, "fill": {"field": "g", "type": "nominal", "scale": {"domain": ["WT", "KO"], "range": ["white", "#222"]}, "legend": null}}},
   {"data": {"values": [{}]}, "mark": {"type": "text", "text": "i", "fontSize": 14, "fontWeight": "bold", "align": "left", "baseline": "middle"}, "encoding": {"x": {"datum": -2.31}, "y": {"datum": 378}}},
   {"data": {"values": [{}]}, "mark": {"type": "text", "text": "P", "fontStyle": "italic", "align": "right", "baseline": "middle"}, "encoding": {"x": {"datum": 2.05}, "y": {"datum": 329}}},
   {"data": {"values": [{}]}, "mark": {"type": "text", "text": "= 0.1974", "align": "left", "dx": 2.5, "baseline": "middle"}, "encoding": {"x": {"datum": 2.05}, "y": {"datum": 329}}}
  ]},
 {"width": 100, "height": 112,
  "layer": [
   {"data": {"name": "j"}, "mark": {"type": "line", "color": "#222", "strokeWidth": 1}, "encoding": {"x": {"field": "t", "type": "quantitative", "title": "Time (min)", "scale": {"domain": [0.33, 6.83], "range": [0, 78], "nice": false, "zero": false}, "axis": {"values": [1,2,3,4,5,6], "tickCount": 50, "format": "d", "labelOverlap": false, "titleColor": "#4f8283", "offset": 3}}, "y": {"field": "v", "type": "quantitative", "title": "Distance traveled (cm)", "scale": {"domain": [0, 300], "nice": false}, "axis": {"values": [0,50,100,150,200,250,300], "tickCount": 50, "format": "d", "labelOverlap": false, "titleColor": "#4f8283"}}, "detail": {"field": "g"}}},
   {"data": {"name": "j"}, "mark": {"type": "errorbar", "ticks": true, "size": 5, "thickness": 1, "color": "#222"}, "encoding": {"x": {"field": "t", "type": "quantitative", "title": "Time (min)"}, "y": {"field": "v", "type": "quantitative", "title": "Distance traveled (cm)"}, "yError": {"field": "e"}}},
   {"data": {"name": "j"}, "mark": {"type": "point", "shape": "circle", "filled": true, "stroke": "#222", "strokeWidth": 1, "size": 36, "opacity": 1}, "encoding": {"x": {"field": "t", "type": "quantitative", "title": "Time (min)"}, "y": {"field": "v", "type": "quantitative", "title": "Distance traveled (cm)"}, "fill": {"field": "g", "type": "nominal", "scale": {"domain": ["WT", "KO"], "range": ["white", "#222"]}, "legend": {"title": null, "orient": "none", "legendX": 69, "legendY": 56, "symbolType": "circle", "symbolSize": 60, "symbolStrokeColor": "#222", "symbolStrokeWidth": 1, "labelFontSize": 11.5, "labelColor": "#222", "labelFont": "Liberation Sans", "rowPadding": -3, "labelOffset": 3}}}},
   {"data": {"values": [{}]}, "mark": {"type": "text", "text": "j", "fontSize": 14, "fontWeight": "bold", "align": "left", "baseline": "middle"}, "encoding": {"x": {"datum": -2.59}, "y": {"datum": 378}}},
   {"data": {"values": [{}]}, "mark": {"type": "text", "text": "P", "fontStyle": "italic", "align": "right", "baseline": "middle"}, "encoding": {"x": {"datum": 1.4}, "y": {"datum": 252}}},
   {"data": {"values": [{}]}, "mark": {"type": "text", "text": "= 0.6311", "align": "left", "dx": 2.5, "baseline": "middle"}, "encoding": {"x": {"datum": 1.4}, "y": {"datum": 252}}},
   {"data": {"values": [{}]}, "mark": {"type": "text", "text": "P", "fontStyle": "italic", "align": "right", "baseline": "middle"}, "encoding": {"x": {"datum": 4.2}, "y": {"datum": 214}}},
   {"data": {"values": [{}]}, "mark": {"type": "text", "text": "= 0.0004", "align": "left", "dx": 2.5, "baseline": "middle"}, "encoding": {"x": {"datum": 4.2}, "y": {"datum": 214}}},
   {"data": {"values": [{}]}, "mark": {"type": "text", "text": "CS", "fontSize": 10, "baseline": "middle"}, "encoding": {"x": {"datum": 5.0}, "y": {"datum": 182}}},
   {"data": {"values": [{}]}, "mark": {"type": "rule", "color": "#222", "strokeWidth": 1.5}, "encoding": {"x": {"datum": 3.85}, "x2": {"datum": 6.2}, "y": {"datum": 163}}}
  ]},
 {"width": 110, "height": 129,
  "layer": [
   {"data": {"name": "k1"}, "mark": {"type": "line", "color": "#222", "strokeWidth": 1}, "encoding": {"x": {"field": "t", "type": "quantitative", "title": null, "scale": {"domain": [0, 6], "range": [0, 97], "nice": false, "zero": false}, "axis": {"values": [0,1,2,3,4,5,6], "tickCount": 50, "format": "d", "labelOverlap": false, "offset": 3}}, "y": {"field": "v", "type": "quantitative", "title": "Distance traveled (cm)", "scale": {"domain": [0, 16], "range": [129, 16], "nice": false}, "axis": {"values": [0,4,8,12,16], "tickCount": 50, "format": "d", "labelOverlap": false}}, "detail": {"field": "g"}}},
   {"data": {"name": "k1"}, "mark": {"type": "errorbar", "ticks": true, "size": 4, "thickness": 1, "color": "#222"}, "encoding": {"x": {"field": "t", "type": "quantitative", "title": null}, "y": {"field": "v", "type": "quantitative", "title": "Distance traveled (cm)"}, "yError": {"field": "e"}}},
   {"data": {"name": "k1"}, "mark": {"type": "point", "shape": "circle", "filled": true, "stroke": "#222", "strokeWidth": 0.8, "size": 22, "opacity": 1}, "encoding": {"x": {"field": "t", "type": "quantitative", "title": null}, "y": {"field": "v", "type": "quantitative", "title": "Distance traveled (cm)"}, "fill": {"field": "g", "type": "nominal", "scale": {"domain": ["WT", "KO"], "range": ["white", "#222"]}, "legend": null}}},
   {"data": {"values": [{}]}, "mark": {"type": "text", "text": "k", "fontSize": 14, "fontWeight": "bold", "align": "left", "baseline": "middle"}, "encoding": {"x": {"datum": -2.23}, "y": {"datum": 20.7}}},
   {"data": {"values": [{}]}, "mark": {"type": "text", "text": "P", "fontStyle": "italic", "align": "right", "baseline": "middle"}, "encoding": {"x": {"datum": 2.2}, "y": {"datum": 19.3}}},
   {"data": {"values": [{}]}, "mark": {"type": "text", "text": "= 0.5427", "align": "left", "dx": 2.5, "baseline": "middle"}, "encoding": {"x": {"datum": 2.2}, "y": {"datum": 19.3}}},
   {"data": {"values": [{}]}, "mark": {"type": "text", "text": "US1", "fontSize": 9.5, "baseline": "middle"}, "encoding": {"x": {"datum": 3}, "y": {"datum": 17.6}}},
   {"data": {"values": [{}]}, "mark": {"type": "rule", "color": "#222", "strokeWidth": 1.5}, "encoding": {"x": {"datum": 2}, "x2": {"datum": 4}, "y": {"datum": 16.5}}}
  ]},
 {"width": 50, "height": 129,
  "layer": [
   {"data": {"name": "k2"}, "mark": {"type": "line", "color": "#222", "strokeWidth": 1}, "encoding": {"x": {"field": "t", "type": "quantitative", "title": "Time (s)", "scale": {"domain": [0, 6], "range": [-42, 55], "nice": false, "zero": false}, "axis": {"values": [0,1,2,3,4,5,6], "tickCount": 50, "format": "d", "labelOverlap": false, "offset": 3}}, "y": {"field": "v", "type": "quantitative", "title": null, "scale": {"domain": [0, 16], "range": [129, 16], "nice": false}, "axis": null}, "detail": {"field": "g"}}},
   {"data": {"name": "k2"}, "mark": {"type": "errorbar", "ticks": true, "size": 4, "thickness": 1, "color": "#222"}, "encoding": {"x": {"field": "t", "type": "quantitative", "title": "Time (s)"}, "y": {"field": "v", "type": "quantitative", "title": null}, "yError": {"field": "e"}}},
   {"data": {"name": "k2"}, "mark": {"type": "point", "shape": "circle", "filled": true, "stroke": "#222", "strokeWidth": 0.8, "size": 22, "opacity": 1}, "encoding": {"x": {"field": "t", "type": "quantitative", "title": "Time (s)"}, "y": {"field": "v", "type": "quantitative", "title": null}, "fill": {"field": "g", "type": "nominal", "scale": {"domain": ["WT", "KO"], "range": ["white", "#222"]}, "legend": null}}},
   {"data": {"values": [{}]}, "mark": {"type": "text", "text": "P", "fontStyle": "italic", "align": "right", "baseline": "middle"}, "encoding": {"x": {"datum": 2.17}, "y": {"datum": 19.3}}},
   {"data": {"values": [{}]}, "mark": {"type": "text", "text": "= 0.3794", "align": "left", "dx": 2.5, "baseline": "middle"}, "encoding": {"x": {"datum": 2.17}, "y": {"datum": 19.3}}},
   {"data": {"values": [{}]}, "mark": {"type": "text", "text": "US2", "fontSize": 9.5, "baseline": "middle"}, "encoding": {"x": {"datum": 3}, "y": {"datum": 17.6}}},
   {"data": {"values": [{}]}, "mark": {"type": "rule", "color": "#222", "strokeWidth": 1.5}, "encoding": {"x": {"datum": 2}, "x2": {"datum": 4}, "y": {"datum": 16.5}}}
  ]},
 {"width": 50, "height": 129,
  "layer": [
   {"data": {"name": "k3"}, "mark": {"type": "line", "color": "#222", "strokeWidth": 1}, "encoding": {"x": {"field": "t", "type": "quantitative", "title": null, "scale": {"domain": [0, 6], "range": [-44, 53], "nice": false, "zero": false}, "axis": {"values": [0,1,2,3,4,5,6], "tickCount": 50, "format": "d", "labelOverlap": false, "offset": 3}}, "y": {"field": "v", "type": "quantitative", "title": null, "scale": {"domain": [0, 16], "range": [129, 16], "nice": false}, "axis": null}, "detail": {"field": "g"}}},
   {"data": {"name": "k3"}, "mark": {"type": "errorbar", "ticks": true, "size": 4, "thickness": 1, "color": "#222"}, "encoding": {"x": {"field": "t", "type": "quantitative", "title": null}, "y": {"field": "v", "type": "quantitative", "title": null}, "yError": {"field": "e"}}},
   {"data": {"name": "k3"}, "mark": {"type": "point", "shape": "circle", "filled": true, "stroke": "#222", "strokeWidth": 0.8, "size": 22, "opacity": 1}, "encoding": {"x": {"field": "t", "type": "quantitative", "title": null}, "y": {"field": "v", "type": "quantitative", "title": null}, "fill": {"field": "g", "type": "nominal", "scale": {"domain": ["WT", "KO"], "range": ["white", "#222"]}, "legend": {"title": null, "orient": "none", "legendX": 54, "legendY": 60, "symbolType": "circle", "symbolSize": 60, "symbolStrokeColor": "#222", "symbolStrokeWidth": 1, "labelFontSize": 11.5, "labelColor": "#222", "labelFont": "Liberation Sans", "rowPadding": -3, "labelOffset": 3}}}},
   {"data": {"values": [{}]}, "mark": {"type": "text", "text": "P", "fontStyle": "italic", "align": "right", "baseline": "middle"}, "encoding": {"x": {"datum": 2.1}, "y": {"datum": 19.3}}},
   {"data": {"values": [{}]}, "mark": {"type": "text", "text": "= 0.6787", "align": "left", "dx": 2.5, "baseline": "middle"}, "encoding": {"x": {"datum": 2.1}, "y": {"datum": 19.3}}},
   {"data": {"values": [{}]}, "mark": {"type": "text", "text": "US3", "fontSize": 9.5, "baseline": "middle"}, "encoding": {"x": {"datum": 3}, "y": {"datum": 17.6}}},
   {"data": {"values": [{}]}, "mark": {"type": "rule", "color": "#222", "strokeWidth": 1.5}, "encoding": {"x": {"datum": 2}, "x2": {"datum": 4}, "y": {"datum": 16.5}}}
  ]}
]
}
